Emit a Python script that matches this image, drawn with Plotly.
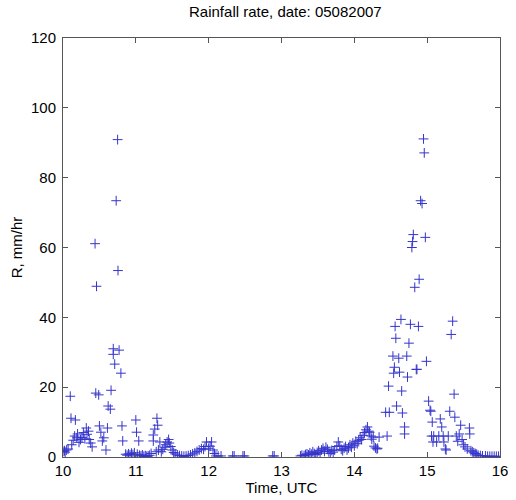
import plotly.graph_objects as go

# Time (UTC hours) and rainfall rate (mm/hr)
time_a = [10.00, 10.02, 10.03, 10.05, 10.07, 10.10, 10.11, 10.12, 10.14, 10.16,
          10.17, 10.19, 10.20, 10.22, 10.24, 10.26, 10.28, 10.30, 10.32, 10.33,
          10.35, 10.36, 10.38, 10.40, 10.44, 10.46, 10.45, 10.49, 10.50, 10.52,
          10.54, 10.56, 10.59, 10.61, 10.62, 10.65, 10.66, 10.69, 10.69, 10.71,
          10.73, 10.75, 10.755, 10.77, 10.795, 10.81, 10.82]
rate_a = [1.6, 1.8, 1.4, 2.0, 2.3, 17.4, 11.1, 3.5, 4.8, 6.0,
          10.6, 5.5, 6.6, 4.2, 5.0, 5.6, 7.0, 5.2, 8.3, 6.5,
          7.4, 5.0, 4.0, 2.9, 61.1, 48.9, 18.3, 17.8, 8.9, 7.1,
          4.6, 5.5, 2.0, 8.3, 14.6, 13.7, 19.1, 31.0, 29.4, 26.6,
          73.4, 90.9, 53.4, 30.6, 24.0, 8.9, 4.6]

time_b = [10.86, 10.88, 10.90, 10.92, 10.94, 10.96, 10.98, 11.00, 11.01, 11.02,
          11.04, 11.05, 11.07, 11.09, 11.11, 11.13, 11.15, 11.17, 11.19, 11.21,
          11.24, 11.24, 11.26, 11.29, 11.30, 11.33, 11.28, 11.31, 11.35, 11.37,
          11.39, 11.41, 11.43, 11.45, 11.46, 11.48, 11.50, 11.52, 11.54, 11.57,
          11.60, 11.63, 11.66, 11.69, 11.72, 11.75, 11.78, 11.81, 11.84, 11.87,
          11.90, 11.93, 11.95, 11.97, 12.00, 12.02, 12.04, 12.06, 12.08, 12.10,
          12.13, 12.17, 12.33, 12.35, 12.47, 12.49, 12.88, 12.90]
rate_b = [0.8, 0.5, 0.9, 0.6, 1.1, 0.7, 1.2, 10.6, 7.1, 0.8,
          4.6, 0.5, 0.3, 0.6, 0.2, 0.4, 0.2, 0.3, 0.5, 1.0,
          6.3, 4.6, 8.0, 11.1, 9.1, 4.3, 1.5, 2.0, 1.5, 2.2,
          2.8, 3.5, 4.3, 5.0, 4.0, 3.0, 2.0, 1.3, 0.9, 0.6,
          0.4, 0.3, 0.2, 0.3, 0.4, 0.6, 0.9, 1.2, 1.6, 2.0,
          2.4, 2.2, 3.0, 4.3, 2.5, 3.1, 4.3, 2.0, 1.0, 0.3,
          0.3, 0.3, 0.3, 0.3, 0.3, 0.3, 0.3, 0.3]

time_c = [13.26, 13.28, 13.31, 13.33, 13.35, 13.37, 13.39, 13.41, 13.43, 13.45,
          13.47, 13.49, 13.51, 13.53, 13.55, 13.57, 13.59, 13.61, 13.63, 13.65,
          13.67, 13.69, 13.71, 13.73, 13.76, 13.78, 13.80, 13.82, 13.84, 13.86,
          13.88, 13.90, 13.92, 13.94, 13.96, 13.98, 14.00, 14.02, 14.04, 14.06,
          14.08, 14.10, 14.12, 14.14, 14.16, 14.18, 14.20, 14.21, 14.23, 14.24,
          14.26, 14.27, 14.29, 14.31, 14.32, 14.34, 14.45]
rate_c = [0.3, 0.5, 0.4, 0.7, 0.9, 0.6, 1.2, 0.8, 1.5, 1.0,
          0.7, 1.3, 1.8, 1.1, 2.0, 2.5, 1.6, 2.8, 2.2, 1.5,
          1.0, 1.9, 1.4, 2.0, 3.0, 4.3, 3.2, 2.2, 1.8, 2.5,
          3.0, 2.0, 2.6, 3.5, 2.8, 4.0, 3.2, 4.5, 3.8, 4.8,
          5.5, 5.0, 6.2, 7.0, 7.8, 8.6, 7.4, 7.1, 6.0, 5.1,
          5.7, 3.1, 2.6, 2.3, 2.5, 5.7, 6.0]

time_d = [14.43, 14.47, 14.48, 14.53, 14.55, 14.54, 14.56, 14.57, 14.58, 14.62,
          14.61, 14.64, 14.65, 14.66, 14.69, 14.69, 14.72, 14.73, 14.75, 14.77,
          14.79, 14.80, 14.81, 14.83, 14.85, 14.86, 14.88, 14.89, 14.91, 14.93,
          14.95, 14.96, 14.975, 14.99, 15.02, 15.04, 15.05, 15.07, 15.06, 15.08,
          15.09, 15.13, 15.16, 15.18, 15.20, 15.22, 15.23, 15.25, 15.26, 15.29,
          15.31, 15.33, 15.35, 15.37, 15.38, 15.40, 15.42, 15.44, 15.46, 15.48,
          15.50, 15.52, 15.55, 15.58, 15.585, 15.60, 15.62, 15.64, 15.66, 15.68,
          15.70, 15.73, 15.76, 15.80, 15.83, 15.86, 15.89, 15.92, 15.95, 15.98]
rate_d = [12.8, 20.3, 12.8, 28.9, 25.7, 24.0, 37.4, 34.0, 14.6, 24.3,
          28.3, 39.4, 18.9, 12.6, 8.6, 6.6, 28.9, 22.9, 32.6, 38.0,
          60.0, 61.7, 63.7, 48.6, 25.1, 25.1, 37.4, 50.9, 73.4, 72.6,
          91.1, 87.1, 62.9, 27.4, 16.0, 13.4, 13.1, 10.0, 6.0, 4.3,
          6.0, 4.3, 6.0, 10.9, 8.6, 6.0, 4.3, 2.3, 2.0, 6.0,
          13.1, 35.1, 38.9, 18.0, 11.4, 6.0, 4.5, 6.6, 9.1, 5.0,
          3.5, 2.9, 2.3, 8.3, 6.6, 1.8, 1.5, 1.2, 1.0, 0.8,
          0.5, 0.4, 0.3, 0.3, 0.2, 0.2, 0.2, 0.2, 0.2, 0.2]

x_ticks = [10, 11, 12, 13, 14, 15, 16]
y_ticks = [0, 20, 40, 60, 80, 100, 120]

times = time_a + time_b + time_c + time_d
rates = rate_a + rate_b + rate_c + rate_d

FONT = "Liberation Sans, Arial, sans-serif"

fig = go.Figure()
fig.add_trace(go.Scatter(
    x=times, y=rates, mode="markers",
    marker=dict(symbol="cross-thin", size=7,
                line=dict(color="#3535cc", width=1), color="#3535cc"),
    showlegend=False,
))

axis_common = dict(
    showgrid=False, zeroline=False, showline=True, linecolor="#555555",
    linewidth=1, mirror="ticks", ticks="inside", ticklen=5,
    tickcolor="#555555", tickfont=dict(family=FONT, size=15, color="black"),
)

fig.update_layout(
    width=516, height=500,
    margin=dict(l=63, r=8, t=38, b=42),
    paper_bgcolor="white", plot_bgcolor="white",
    font=dict(family=FONT, size=15, color="black"),
    title=dict(text="Rainfall rate, date: 05082007", x=0.553, xanchor="center",
               y=0.976, yanchor="middle", yref="container",
               font=dict(family=FONT, size=15, color="black")),
    xaxis=dict(range=[10, 16.0001], tickvals=x_ticks, **axis_common,
               ticklabeloverflow="allow",
               title=dict(text="Time, UTC", standoff=2,
                          font=dict(family=FONT, size=15))),
    yaxis=dict(range=[0, 120], tickvals=y_ticks, **axis_common,
               ticklabelstandoff=3,
               title=dict(text="R, mm/hr", standoff=4,
                          font=dict(family=FONT, size=15))),
)

fig.write_html("out.html")
